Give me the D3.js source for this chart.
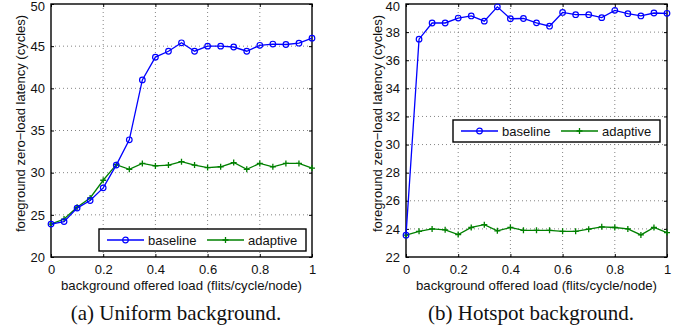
<!DOCTYPE html>
<html>
<head>
<meta charset="utf-8">
<script src="https://cdn.jsdelivr.net/npm/d3@7"></script>
<style>
  body { margin: 0; background: #fff; }
  svg { display: block; }
</style>
</head>
<body>
<svg id="chart" width="688" height="331"></svg>
<script>
// x values: background offered load
const loads = [0, 0.05, 0.1, 0.15, 0.2, 0.25, 0.3, 0.35, 0.4, 0.45, 0.5,
  0.55, 0.6, 0.65, 0.7, 0.75, 0.8, 0.85, 0.9, 0.95, 1];

// (a) uniform background
const uniformBaseline = [23.9, 24.2, 25.8, 26.7, 28.2, 30.9, 33.9, 41.0, 43.7, 44.4, 45.4,
  44.4, 45.0, 45.0, 44.9, 44.4, 45.1, 45.25, 45.2, 45.35, 45.95];
const uniformAdaptive = [23.9, 24.5, 25.9, 27.0, 29.1, 30.95, 30.4, 31.1, 30.8, 30.9, 31.3,
  30.9, 30.6, 30.7, 31.2, 30.4, 31.1, 30.7, 31.1, 31.1, 30.55];

// (b) hotspot background
const hotspotBaseline = [23.55, 37.5, 38.65, 38.65, 39.0, 39.15, 38.78, 39.8, 38.95, 38.97, 38.66,
  38.42, 39.4, 39.24, 39.24, 39.03, 39.55, 39.31, 39.15, 39.36, 39.34];
const hotspotAdaptive = [23.55, 23.83, 24.0, 23.93, 23.6, 24.1, 24.3, 23.86, 24.1, 23.9, 23.9,
  23.9, 23.83, 23.83, 23.98, 24.15, 24.1, 24.0, 23.57, 24.1, 23.74];

// tick labels
const xTicks = [0, 0.2, 0.4, 0.6, 0.8, 1];
const uniformYTicks = [20, 25, 30, 35, 40, 45, 50];
const hotspotYTicks = [22, 24, 26, 28, 30, 32, 34, 36, 38, 40];

const seriesNames = ["baseline", "adaptive"];
const captions = ["(a) Uniform background.", "(b) Hotspot background."];
const xLabel = "background offered load (flits/cycle/node)";
const yLabel = "foreground zero\u2212load latency (cycles)";

const BLUE = "#0000ff";
const GREEN = "#008000";
const sansFont = "'Liberation Sans', Arial, sans-serif";
const serifFont = "'Liberation Serif', 'Times New Roman', serif";

const svg = d3.select("#chart");

// Draw one panel
function drawPanel(opts) {
  const top = 4, bottom = 257;
  const x = d3.scaleLinear().domain([0, 1]).range([opts.left, opts.right]);
  const y = d3.scaleLinear().domain(opts.yDomain).range([bottom, top]);
  const g = svg.append("g");

  // Dotted grid
  g.selectAll(".gx")
    .data(xTicks.slice(1, -1))
    .enter()
    .append("line")
    .attr("x1", (d) => x(d)).attr("x2", (d) => x(d))
    .attr("y1", top).attr("y2", bottom)
    .attr("stroke", "#666").attr("stroke-width", 0.8)
    .attr("stroke-dasharray", "1,3");
  g.selectAll(".gy")
    .data(opts.yTicks.slice(1, -1))
    .enter()
    .append("line")
    .attr("x1", opts.left).attr("x2", opts.right)
    .attr("y1", (d) => y(d)).attr("y2", (d) => y(d))
    .attr("stroke", "#666").attr("stroke-width", 0.8)
    .attr("stroke-dasharray", "1,3");

  // Axes with inward ticks
  const axisStyle = (sel) => {
    sel.select(".domain").remove();
    sel.selectAll("text")
      .style("font-family", sansFont)
      .style("font-size", "13px")
      .attr("fill", "#111");
    sel.selectAll("line").attr("stroke", "#000");
  };
  g.append("g")
    .attr("transform", `translate(0, ${bottom})`)
    .call(d3.axisBottom(x).tickValues(xTicks).tickFormat((d) => d).tickSizeInner(-3).tickPadding(8))
    .call(axisStyle);
  const yAxis = g.append("g")
    .attr("transform", `translate(${opts.left}, 0)`)
    .call(d3.axisLeft(y).tickValues(opts.yTicks).tickSizeInner(-3).tickPadding(6))
    .call(axisStyle);
  // keep the topmost label inside the picture
  yAxis.selectAll("text").filter((d) => d === opts.yDomain[1]).attr("dy", "0.5em");
  g.append("g")
    .attr("transform", `translate(0, ${top})`)
    .call(d3.axisTop(x).tickValues(xTicks).tickSizeInner(-3).tickFormat(""))
    .call(axisStyle);
  g.append("g")
    .attr("transform", `translate(${opts.right}, 0)`)
    .call(d3.axisRight(y).tickValues(opts.yTicks).tickSizeInner(-3).tickFormat(""))
    .call(axisStyle);

  // Frame
  g.append("rect")
    .attr("x", opts.left).attr("y", top)
    .attr("width", opts.right - opts.left).attr("height", bottom - top)
    .attr("fill", "none").attr("stroke", "#000").attr("stroke-width", 1.4);

  // Lines
  const line = d3.line().x((d, i) => x(loads[i])).y((d) => y(d));
  g.append("path").datum(opts.adaptive)
    .attr("d", line).attr("fill", "none")
    .attr("stroke", GREEN).attr("stroke-width", 1.3);
  g.selectAll(".plus")
    .data(opts.adaptive)
    .enter()
    .append("path")
    .attr("d", (d, i) => `M${x(loads[i]) - 3},${y(d)}h6M${x(loads[i])},${y(d) - 3}v6`)
    .attr("stroke", GREEN).attr("stroke-width", 1.3);

  g.append("path").datum(opts.baseline)
    .attr("d", line).attr("fill", "none")
    .attr("stroke", BLUE).attr("stroke-width", 1.3);
  g.selectAll(".circ")
    .data(opts.baseline)
    .enter()
    .append("circle")
    .attr("cx", (d, i) => x(loads[i])).attr("cy", (d) => y(d)).attr("r", 2.8)
    .attr("fill", "none").attr("stroke", BLUE).attr("stroke-width", 1.2);

  // Legend
  const lg = g.append("g").attr("transform", `translate(${opts.legend[0]}, ${opts.legend[1]})`);
  lg.append("rect")
    .attr("width", 207).attr("height", 22)
    .attr("fill", "#fff").attr("stroke", "#000").attr("stroke-width", 1.4);
  const items = [
    { name: seriesNames[0], color: BLUE, x0: 8 },
    { name: seriesNames[1], color: GREEN, x0: 108 },
  ];
  items.forEach((it, k) => {
    lg.append("line")
      .attr("x1", it.x0).attr("x2", it.x0 + 37)
      .attr("y1", 11).attr("y2", 11)
      .attr("stroke", it.color).attr("stroke-width", 1.3);
    const mx = it.x0 + 18.5;
    if (k === 0) {
      lg.append("circle").attr("cx", mx).attr("cy", 11).attr("r", 2.8)
        .attr("fill", "none").attr("stroke", it.color).attr("stroke-width", 1.2);
    } else {
      lg.append("path").attr("d", `M${mx - 3},11h6M${mx},8v6`)
        .attr("stroke", it.color).attr("stroke-width", 1.3);
    }
    lg.append("text")
      .attr("x", it.x0 + 41).attr("y", 15.5)
      .style("font-family", sansFont).style("font-size", "13px")
      .attr("fill", "#111")
      .text(it.name);
  });

  // Axis labels
  const cx = (opts.left + opts.right) / 2;
  g.append("text")
    .attr("x", cx).attr("y", 290)
    .attr("text-anchor", "middle")
    .style("font-family", sansFont).style("font-size", "13.2px")
    .attr("fill", "#111")
    .text(xLabel);
  g.append("text")
    .attr("transform", `translate(${opts.yLabelX}, ${(top + bottom) / 2 - 7}) rotate(-90)`)
    .attr("text-anchor", "middle")
    .style("font-family", sansFont).style("font-size", "13px")
    .attr("fill", "#111")
    .text(yLabel);

  // Caption
  g.append("text")
    .attr("x", opts.captionX).attr("y", 320)
    .attr("text-anchor", "middle")
    .style("font-family", serifFont).style("font-size", "21px")
    .attr("fill", "#111")
    .text(opts.caption);
}

drawPanel({
  left: 51, right: 312,
  yDomain: [20, 50], yTicks: uniformYTicks,
  baseline: uniformBaseline, adaptive: uniformAdaptive,
  legend: [99, 229], yLabelX: 25, captionX: 176, caption: captions[0],
});
drawPanel({
  left: 406, right: 667,
  yDomain: [22, 40], yTicks: hotspotYTicks,
  baseline: hotspotBaseline, adaptive: hotspotAdaptive,
  legend: [453, 120], yLabelX: 382, captionX: 531, caption: captions[1],
});
</script>
</body>
</html>
